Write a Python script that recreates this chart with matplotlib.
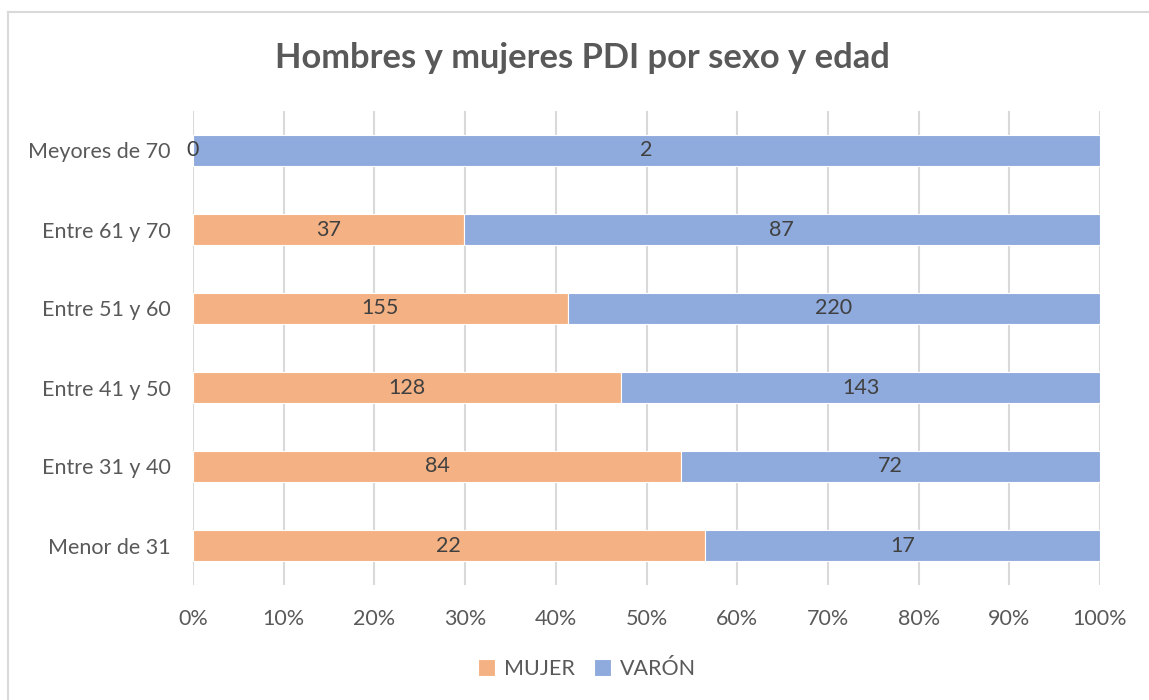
import matplotlib
matplotlib.use("Agg")
import matplotlib.pyplot as plt
from matplotlib.lines import Line2D
from matplotlib.ticker import FuncFormatter, MultipleLocator

categories = ["Menor de 31", "Entre 31 y 40", "Entre 41 y 50", "Entre 51 y 60", "Entre 61 y 70", "Meyores de 70"]
mujer = [22, 84, 128, 155, 37, 0]
varon = [17, 72, 143, 220, 87, 2]
series_names = ["MUJER", "VARÓN"]
title = "Hombres y mujeres PDI por sexo y edad"

c_mujer = "#F4B183"
c_varon = "#8FAADC"
txt = "#595959"
font = ["Lato", "DejaVu Sans"]
plt.rcParams["font.family"] = font

fig = plt.figure(figsize=(11.49, 7.0), dpi=100)
ax = fig.add_axes([193/1149, 1-585/700, (1100-193)/1149, (585-111)/700])

totals = [m + v for m, v in zip(mujer, varon)]
pm = [m / t for m, t in zip(mujer, totals)]
pv = [v / t for v, t in zip(varon, totals)]
y = list(range(len(categories)))

b1 = ax.barh(y, pm, height=0.4, color=c_mujer, edgecolor="white", linewidth=0.8, label=series_names[0], zorder=3)
b2 = ax.barh(y, pv, left=pm, height=0.4, color=c_varon, edgecolor="white", linewidth=0.8, label=series_names[1], zorder=3)

fs = 15.5
for i in range(len(categories)):
    ax.text(pm[i] / 2, y[i], str(mujer[i]), ha="center", va="center", fontsize=fs, color="#404040", zorder=4)
    ax.text(pm[i] + pv[i] / 2, y[i], str(varon[i]), ha="center", va="center", fontsize=fs, color="#404040", zorder=4)

ax.set_xlim(0, 1)
ax.set_ylim(-0.5, len(categories) - 0.5)
ax.xaxis.set_major_locator(MultipleLocator(0.1))
ax.xaxis.set_major_formatter(FuncFormatter(lambda v, p: f"{v*100:.0f}%"))
ax.set_yticks(y)
ax.set_yticklabels(categories)
ax.grid(axis="x", color="#D9D9D9", linewidth=1.5, zorder=0)
ax.tick_params(axis="both", length=0, labelsize=fs, colors=txt)
ax.tick_params(axis="x", pad=17)
ax.tick_params(axis="y", pad=16)
for s in ax.spines.values():
    s.set_visible(False)

fig.text(582/1149, 1-58/700, title, ha="center", va="center", fontsize=24.8, fontweight="bold", color=txt)

leg = fig.legend(handles=[b1, b2], loc="center", bbox_to_anchor=(587/1149, 1-669/700), ncol=2, frameon=False,
                 fontsize=fs, handlelength=0.8, handleheight=0.8, columnspacing=0.9, handletextpad=0.4)
for t in leg.get_texts():
    t.set_color(txt)

fig.add_artist(Line2D([8/1149, 8/1149], [0, 1-12/700], color="#D9D9D9", linewidth=1.5, transform=fig.transFigure))
fig.add_artist(Line2D([8/1149, 1], [1-12/700, 1-12/700], color="#D9D9D9", linewidth=1.5, transform=fig.transFigure))

fig.savefig("out.png", dpi=100, facecolor="white")
